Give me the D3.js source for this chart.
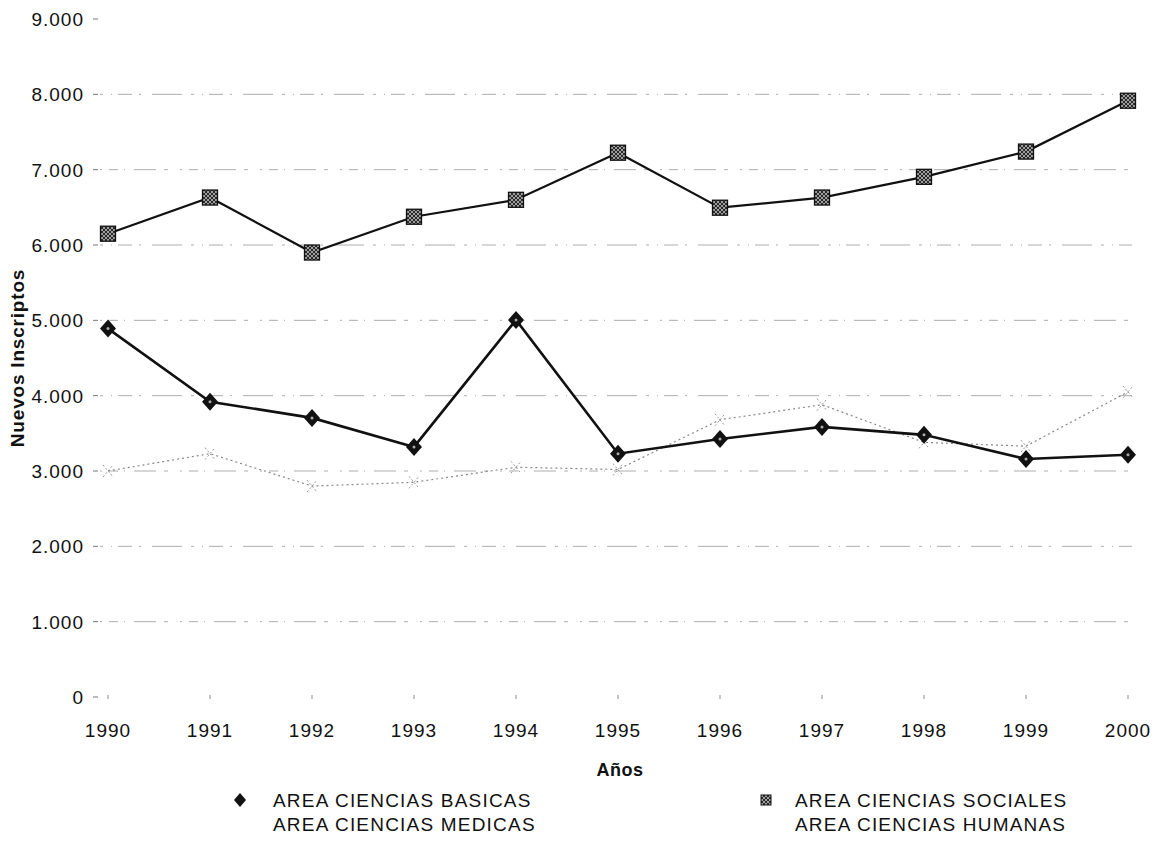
<!DOCTYPE html>
<html>
<head>
    <title>Nuevos Inscriptos por Area</title>
    <script src="https://cdn.jsdelivr.net/npm/d3@7"></script>
    <style>
        body { margin: 0; background: #fff; }
        svg text { font-family: "Liberation Sans", Arial, sans-serif; fill: #111; }
        .tick-label { font-size: 19px; letter-spacing: 1px; }
        .axis-title { font-size: 18px; font-weight: bold; letter-spacing: 0.5px; }
        .y-title { font-size: 19px; font-weight: bold; letter-spacing: 0.8px; }
        .legend-label { font-size: 19px; letter-spacing: 1.2px; }
    </style>
</head>
<body>
    <div id="chart"></div>

    <script>
        // data
        var years = [1990, 1991, 1992, 1993, 1994, 1995, 1996, 1997, 1998, 1999, 2000];
        var basicas  = [4890, 3920, 3705, 3320, 5005, 3230, 3425, 3585, 3480, 3160, 3215];
        var sociales = [6150, 6630, 5900, 6375, 6600, 7225, 6495, 6630, 6905, 7240, 7915];
        var medicas  = [3000, 3230, 2800, 2850, 3050, 3020, 3680, 3880, 3380, 3330, 4050];
        var yTicks = [0, 1000, 2000, 3000, 4000, 5000, 6000, 7000, 8000, 9000];
        var seriesNames = ["AREA CIENCIAS BASICAS", "AREA CIENCIAS SOCIALES",
                           "AREA CIENCIAS MEDICAS", "AREA CIENCIAS HUMANAS"];

        var width = 1168, height = 846;
        var margin = {top: 19, right: 40, bottom: 149, left: 108};

        var svg = d3.select("#chart").append("svg")
            .attr("width", width)
            .attr("height", height);

        // hatched fill for the square markers
        var defs = svg.append("defs");
        var pat = defs.append("pattern")
            .attr("id", "hatch")
            .attr("width", 4).attr("height", 4)
            .attr("patternUnits", "userSpaceOnUse");
        pat.append("rect").attr("width", 4).attr("height", 4).attr("fill", "#2a2a2a");
        pat.append("path").attr("d", "M0,4L4,0M0,0L4,4").attr("stroke", "#bbb").attr("stroke-width", 0.8);

        var x = d3.scalePoint()
            .domain(years)
            .range([margin.left, width - margin.right]);

        var y = d3.scaleLinear()
            .domain([0, 9000])
            .range([height - margin.bottom, margin.top]);

        var fmt = d3.formatLocale({decimal: ",", thousands: ".", grouping: [3], currency: ["$", ""]}).format(",d");

        // gridlines (broken, like the scan)
        svg.append("g")
            .selectAll("line")
            .data(yTicks.filter(d => d > 0 && d < 9000))
            .enter().append("line")
            .attr("x1", margin.left - 8)
            .attr("x2", width - margin.right + 4)
            .attr("y1", d => y(d))
            .attr("y2", d => y(d))
            .attr("stroke", "#999")
            .attr("stroke-width", 1)
            .attr("stroke-dasharray", (d, i) => i % 2 ? "3,8,1,6,14,7,2,11,30,9" : "2,7,9,6,1,9,22,8,4,12")
            .attr("opacity", 0.8);

        // y axis: tick dashes + labels
        var yAxis = svg.append("g");
        yAxis.selectAll("line")
            .data(yTicks)
            .enter().append("line")
            .attr("x1", margin.left - 15)
            .attr("x2", margin.left - 10)
            .attr("y1", d => y(d))
            .attr("y2", d => y(d))
            .attr("stroke", "#777");
        yAxis.selectAll("text")
            .data(yTicks)
            .enter().append("text")
            .attr("class", "tick-label")
            .attr("x", margin.left - 24)
            .attr("y", d => y(d))
            .attr("dy", "0.36em")
            .attr("text-anchor", "end")
            .text(d => fmt(d));

        // x axis: small ticks + year labels
        var xAxis = svg.append("g");
        xAxis.selectAll("line")
            .data(years)
            .enter().append("line")
            .attr("x1", d => x(d))
            .attr("x2", d => x(d))
            .attr("y1", y(0) - 2)
            .attr("y2", y(0) + 2)
            .attr("stroke", "#888");
        xAxis.selectAll("text")
            .data(years)
            .enter().append("text")
            .attr("class", "tick-label")
            .attr("x", d => x(d))
            .attr("y", y(0) + 40)
            .attr("text-anchor", "middle")
            .text(d => d);

        // axis titles
        svg.append("text")
            .attr("class", "axis-title")
            .attr("x", 620)
            .attr("y", 776)
            .attr("text-anchor", "middle")
            .text("Años");

        svg.append("text")
            .attr("class", "y-title")
            .attr("transform", "translate(24," + (y(4500) + 0) + ") rotate(-90)")
            .attr("text-anchor", "middle")
            .text("Nuevos Inscriptos");

        var line = d3.line()
            .x((d, i) => x(years[i]))
            .y(d => y(d));

        // medicas: faint dotted line with x markers
        svg.append("path")
            .datum(medicas)
            .attr("fill", "none")
            .attr("stroke", "#888")
            .attr("stroke-width", 1.2)
            .attr("stroke-dasharray", "2,3")
            .attr("d", line);
        svg.append("g")
            .selectAll("path")
            .data(medicas)
            .enter().append("path")
            .attr("transform", (d, i) => "translate(" + x(years[i]) + "," + y(d) + ")")
            .attr("d", "M-5,-6L5,6M-5,6L5,-6")
            .attr("stroke", "#999")
            .attr("stroke-width", 1)
            .attr("stroke-dasharray", "2,2");

        // sociales
        svg.append("path")
            .datum(sociales)
            .attr("fill", "none")
            .attr("stroke", "#111")
            .attr("stroke-width", 2.2)
            .attr("d", line);
        svg.append("g")
            .selectAll("rect")
            .data(sociales)
            .enter().append("rect")
            .attr("x", (d, i) => x(years[i]) - 7.5)
            .attr("y", d => y(d) - 7.5)
            .attr("width", 15)
            .attr("height", 15)
            .attr("fill", "url(#hatch)")
            .attr("stroke", "#111")
            .attr("stroke-width", 1.3);

        // basicas
        svg.append("path")
            .datum(basicas)
            .attr("fill", "none")
            .attr("stroke", "#111")
            .attr("stroke-width", 2.6)
            .attr("d", line);
        var diamond = "M0,-9L8,0L0,9L-8,0Z";
        var dm = svg.append("g")
            .selectAll("g")
            .data(basicas)
            .enter().append("g")
            .attr("transform", (d, i) => "translate(" + x(years[i]) + "," + y(d) + ")");
        dm.append("path").attr("d", diamond).attr("fill", "#111");
        dm.append("circle").attr("r", 1.5).attr("fill", "#aaa");

        // legend
        var legend = svg.append("g");
        var lg = [
            {name: seriesNames[0], lx: 240, ly: 800, mark: "diamond"},
            {name: seriesNames[1], lx: 766, ly: 800, mark: "square"},
            {name: seriesNames[2], lx: 240, ly: 824, mark: "none"},
            {name: seriesNames[3], lx: 766, ly: 824, mark: "none"}
        ];
        var items = legend.selectAll("g")
            .data(lg)
            .enter().append("g")
            .attr("transform", d => "translate(" + d.lx + "," + d.ly + ")");
        items.filter(d => d.mark === "diamond")
            .append("path")
            .attr("d", "M0,-7L6,0L0,7L-6,0Z")
            .attr("fill", "#111");
        items.filter(d => d.mark === "square")
            .append("rect")
            .attr("x", -5).attr("y", -5)
            .attr("width", 10).attr("height", 10)
            .attr("fill", "url(#hatch)")
            .attr("stroke", "#111");
        items.append("text")
            .attr("class", "legend-label")
            .attr("x", d => d.lx === 240 ? 33 : 29)
            .attr("y", 7)
            .text(d => d.name);
    </script>
</body>
</html>
